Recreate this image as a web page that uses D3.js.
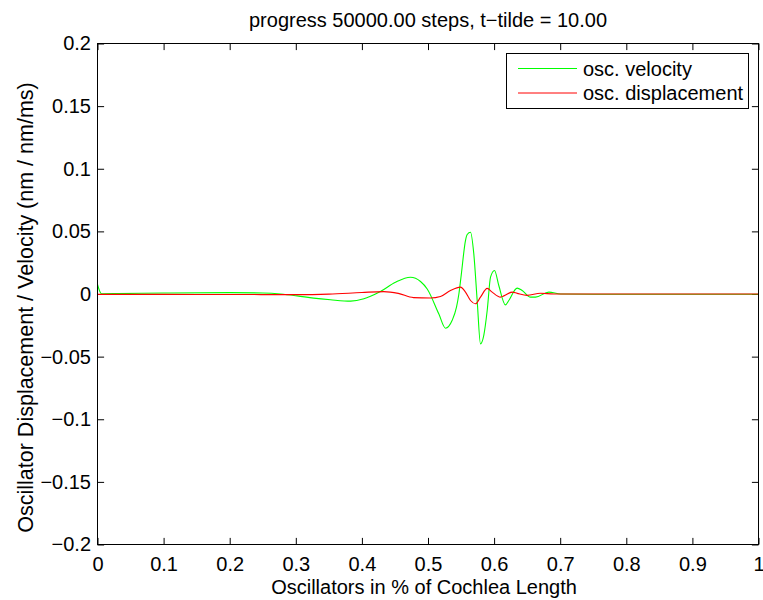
<!DOCTYPE html>
<html>
<head>
<meta charset="utf-8">
<script src="https://cdn.jsdelivr.net/npm/d3@7"></script>
<style>
  html, body { margin: 0; padding: 0; background: #fff; }
  svg text { font-family: "Liberation Sans", Arial, Helvetica, sans-serif; fill: #000; }
</style>
</head>
<body>
<svg id="chart" width="763" height="600"></svg>
<script>
// Oscillator position (fraction of cochlea length) and sampled responses
const velocityX = [0, 0.006, 0.03, 0.1, 0.2, 0.25, 0.277, 0.302, 0.327, 0.3525, 0.383, 0.403, 0.413,
  0.428, 0.4508, 0.4735, 0.4887, 0.4988, 0.5163, 0.5265, 0.5366, 0.5431, 0.5467, 0.5502, 0.5567,
  0.5593, 0.5643, 0.5693, 0.5744, 0.5794, 0.5844, 0.5896, 0.5946, 0.6006, 0.6071, 0.6172, 0.6222,
  0.6349, 0.6425, 0.6551, 0.6626, 0.6828, 0.7005, 0.75, 0.85, 1.0];
const velocity = [0.0076, 0.0002, 0.0003, 0.0008, 0.0011, 0.0008, 0.0, -0.0015, -0.0033, -0.0046,
  -0.0057, -0.0038, -0.0018, 0.002, 0.0094, 0.0134, 0.0100, 0.004, -0.0158, -0.0273, -0.021, -0.0105,
  0.0, 0.0148, 0.0427, 0.0475, 0.0493, 0.032, -0.0052, -0.0398, -0.033, -0.013, 0.0134, 0.0188,
  0.0068, -0.0087, -0.0052, 0.0047, 0.0028, -0.0025, -0.0025, 0.0015, 0.0, -0.0002, -0.0002, -0.0002];

const displacementX = [0, 0.1, 0.2, 0.3, 0.35, 0.40, 0.433, 0.455, 0.478, 0.5038, 0.5189, 0.534,
  0.5492, 0.5567, 0.5643, 0.5719, 0.5794, 0.5896, 0.5971, 0.6097, 0.6147, 0.6274, 0.6349, 0.65,
  0.6702, 0.69, 0.75, 1.0];
const displacement = [-0.0003, -0.0003, -0.0004, -0.0005, -0.0001, 0.0012, 0.0019, 0.0005, -0.0029,
  -0.0032, -0.002, 0.0028, 0.0055, 0.0015, -0.0052, -0.0078, -0.0025, 0.0045, 0.0015, -0.0025,
  -0.0015, 0.0015, 0.0005, -0.0011, 0.0006, 0.0, 0.0, 0.0];

const xTicks = [0, 0.1, 0.2, 0.3, 0.4, 0.5, 0.6, 0.7, 0.8, 0.9, 1];
const xTickLabels = ["0", "0.1", "0.2", "0.3", "0.4", "0.5", "0.6", "0.7", "0.8", "0.9", "1"];
const yTicks = [-0.2, -0.15, -0.1, -0.05, 0, 0.05, 0.1, 0.15, 0.2];
const yTickLabels = ["\u22120.2", "\u22120.15", "\u22120.1", "\u22120.05", "0", "0.05", "0.1", "0.15", "0.2"];

const seriesNames = ["osc. velocity", "osc. displacement"];
const seriesColors = ["#00ff00", "#ff0000"];

const titleText = "progress 50000.00 steps, t\u2212tilde = 10.00";
const xLabelText = "Oscillators in % of Cochlea Length";
const yLabelText = "Oscillator Displacement / Velocity (nm / nm/ms)";

// Plot box
const boxLeft = 97.5, boxRight = 758.5, boxTop = 43.5, boxBottom = 544.5;
const tickLen = 6.6;

const svg = d3.select("#chart");
const x = d3.scaleLinear().domain([0, 1]).range([boxLeft, boxRight]);
const y = d3.scaleLinear().domain([-0.2, 0.2]).range([boxBottom, boxTop]);

// Axes with inward ticks on all four sides
const axisStyle = g => {
  g.selectAll(".domain").remove();
  g.selectAll(".tick line").attr("stroke", "#000").attr("stroke-width", 1);
  g.selectAll("text").style("font-size", "20px");
};

svg.append("g").attr("transform", `translate(0,${boxBottom})`)
  .call(d3.axisBottom(x).tickValues(xTicks).tickFormat((d, i) => xTickLabels[i])
    .tickSizeInner(-tickLen).tickSizeOuter(0).tickPadding(12.5))
  .call(axisStyle);
svg.append("g").attr("transform", `translate(0,${boxTop})`)
  .call(d3.axisTop(x).tickValues(xTicks).tickFormat("")
    .tickSizeInner(-tickLen).tickSizeOuter(0))
  .call(axisStyle);
svg.append("g").attr("transform", `translate(${boxLeft},0)`)
  .call(d3.axisLeft(y).tickValues(yTicks).tickFormat((d, i) => yTickLabels[i])
    .tickSizeInner(-tickLen).tickSizeOuter(0).tickPadding(6.5))
  .call(axisStyle);
svg.append("g").attr("transform", `translate(${boxRight},0)`)
  .call(d3.axisRight(y).tickValues(yTicks).tickFormat("")
    .tickSizeInner(-tickLen).tickSizeOuter(0))
  .call(axisStyle);

// Data lines
const line = d3.line().curve(d3.curveMonotoneX);
const seriesData = [
  d3.zip(velocityX, velocity),
  d3.zip(displacementX, displacement)
];
seriesData.forEach((pts, i) => {
  svg.append("path")
    .attr("fill", "none")
    .attr("stroke", seriesColors[i])
    .attr("stroke-width", 1.1)
    .attr("d", line(pts.map(([a, b]) => [x(a), y(b)])));
});

// Box
svg.append("rect")
  .attr("x", boxLeft).attr("y", boxTop)
  .attr("width", boxRight - boxLeft).attr("height", boxBottom - boxTop)
  .attr("fill", "none").attr("stroke", "#000").attr("stroke-width", 1);

// Legend
const lg = svg.append("g");
lg.append("rect").attr("x", 506.5).attr("y", 53.5).attr("width", 242).attr("height", 55)
  .attr("fill", "#fff").attr("stroke", "#000").attr("stroke-width", 1);
seriesNames.forEach((name, i) => {
  const ly = 68.5 + i * 24.5;
  lg.append("line").attr("x1", 518).attr("x2", 577).attr("y1", ly).attr("y2", ly)
    .attr("stroke", seriesColors[i]).attr("stroke-width", 1);
  lg.append("text").attr("x", 583).attr("y", ly + 7).style("font-size", "20px").text(name);
});

// Title and axis labels
svg.append("text").attr("x", 428).attr("y", 27).attr("text-anchor", "middle")
  .style("font-size", "20px").text(titleText);
svg.append("text").attr("x", 424).attr("y", 593.5).attr("text-anchor", "middle")
  .style("font-size", "20px").text(xLabelText);
svg.append("text").attr("transform", "translate(33,307.5) rotate(-90)").attr("text-anchor", "middle")
  .style("font-size", "21.5px").text(yLabelText);
</script>
</body>
</html>
